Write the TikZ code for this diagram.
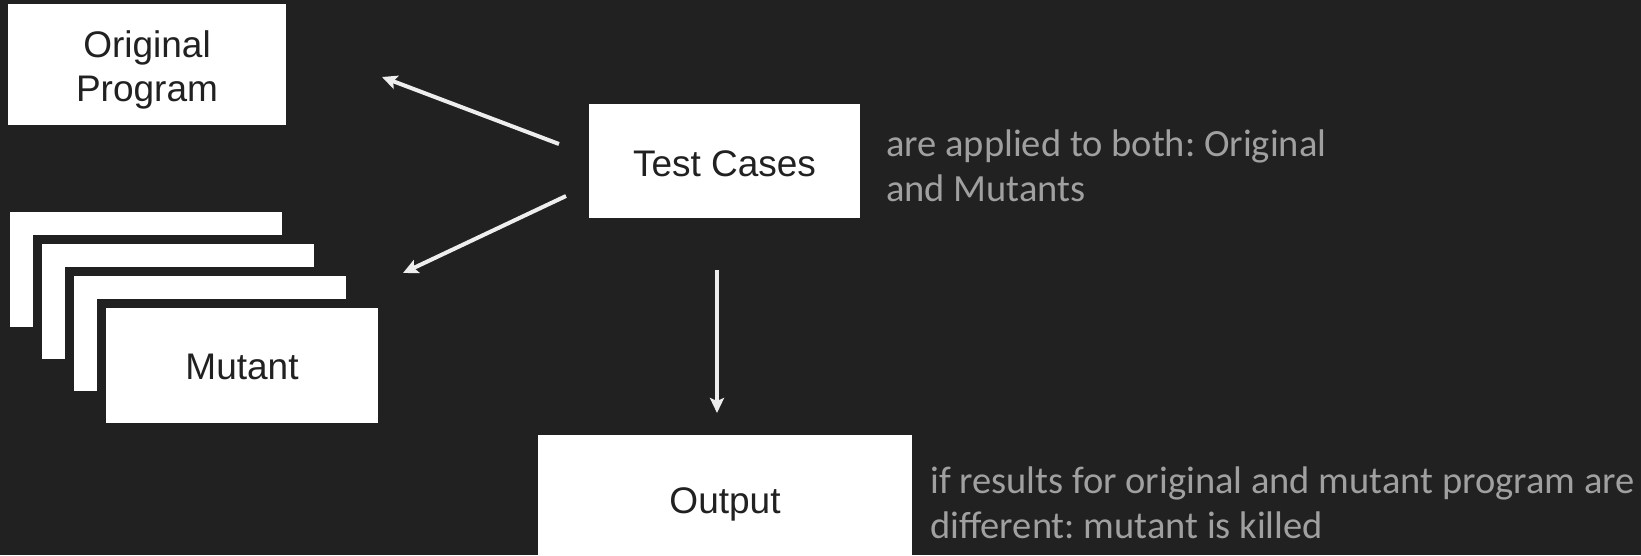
\documentclass[tikz,border=0pt]{standalone}
\usepackage{fontspec}
\setmainfont{Liberation Sans}
\newfontfamily\notefont{Carlito}
\usetikzlibrary{arrows.meta}
\frenchspacing

\definecolor{bgdark}{HTML}{212121}
\definecolor{inkdark}{HTML}{212121}
\definecolor{notegray}{HTML}{A0A0A0}
\definecolor{arrowgray}{HTML}{EEEEEE}

\tikzset{
  box/.style={rectangle, fill=white, text=inkdark, inner sep=0pt, align=center,
    text height=30pt, text depth=0pt, font=\fontsize{37}{44}\selectfont},
  stackbox/.style={box, draw=bgdark, line width=9pt, minimum width=281pt, minimum height=124pt},
  note/.style={anchor=base west, align=left, inner sep=0pt, text=notegray,
    font=\notefont\fontsize{38.5}{45}\selectfont},
  flow/.style={draw=arrowgray, line width=4pt, -{Stealth[length=15pt,width=14pt,inset=3pt]}}
}

\begin{document}
\begin{tikzpicture}[x=1pt,y=-1pt]
    \fill[bgdark] (0,0) rectangle (1641,555);
    \useasboundingbox (0,0) rectangle (1641,555);

    % Nodes
    \node[box, text height=, text depth=, minimum width=278pt, minimum height=121pt] (orig) at (147,64.5)
        {\rule{0pt}{38pt}Original\\Program};
    \node[stackbox] (mut1) at (146,269.5) {};
    \node[stackbox] (mut2) at (178,301.5) {};
    \node[stackbox] (mut3) at (210,333.5) {};
    \node[stackbox, text height=28pt] (mut4) at (242,365.5) {Mutant};
    \node[box, minimum width=271pt, minimum height=114pt] (tests) at (724.5,161) {Test Cases};
    \node[box, text height=32pt, minimum width=374pt, minimum height=124pt] (out) at (725,497) {Output};

    % Notes (anchored on the last line)
    \node[note] (applied) at (886,201) {are applied to both: Original\\and Mutants};
    \node[note] (killed) at (930,538) {if results for original and mutant program are\\different: mutant is killed};

    % Arrow ends
    \coordinate (toorigA) at (559,144);
    \coordinate (toorigB) at (382,77);
    \coordinate (tomutA) at (566,196);
    \coordinate (tomutB) at (403,273);
    \coordinate (tooutA) at (717,270);
    \coordinate (tooutB) at (717,413);

    % Edges
    \path[flow]
        (toorigA) -- (toorigB);
    \path[flow]
        (tomutA) -- (tomutB);
    \path[flow]
        (tooutA) -- (tooutB);
\end{tikzpicture}
\end{document}
